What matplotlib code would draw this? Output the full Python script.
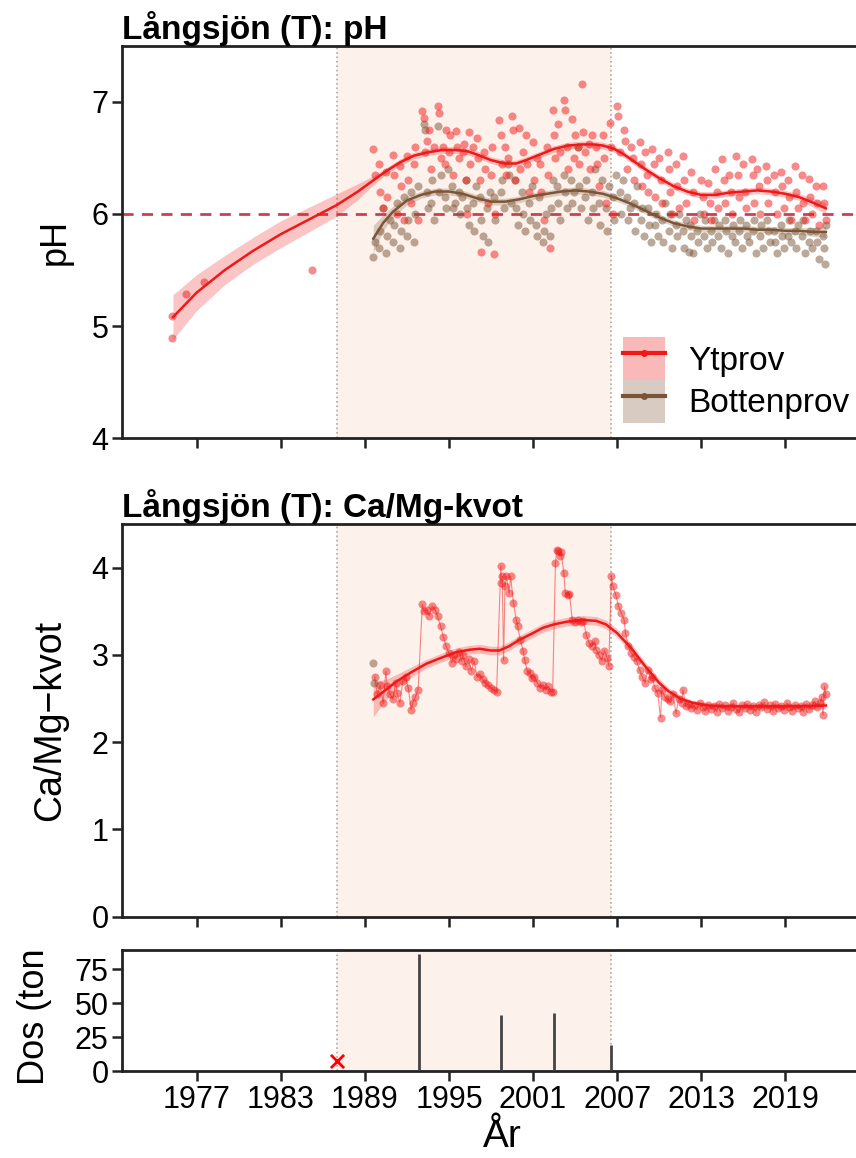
import matplotlib
matplotlib.use("Agg")
import matplotlib.pyplot as plt
import numpy as np
from matplotlib.patches import Patch
from matplotlib.lines import Line2D
from matplotlib.transforms import Bbox, TransformedBbox

plt.rcParams['font.family'] = ['Liberation Sans', 'DejaVu Sans']

# --- pH, Ytprov (surface samples)
ph_yt_t = [1975.2, 1975.25, 1976.2, 1977.5, 1985.2,
           1989.6, 1989.7, 1990.0, 1990.1, 1990.3, 1990.5, 1990.6, 1991.0, 1991.1, 1991.3,
           1991.5, 1991.6, 1991.8, 1992.0, 1992.1, 1992.3, 1992.5, 1992.6, 1992.8,
           1993.1, 1993.2, 1993.3, 1993.4, 1993.6, 1993.7, 1993.9, 1994.2, 1994.3, 1994.4,
           1994.6, 1994.7, 1994.8, 1995.0, 1995.1, 1995.3, 1995.5, 1995.6, 1995.7,
           1996.0, 1996.1, 1996.2, 1996.3, 1996.4, 1996.5, 1996.7, 1997.0, 1997.1, 1997.2,
           1997.3, 1997.5, 1997.6, 1997.8, 1998.0, 1998.1, 1998.2, 1998.3, 1998.6, 1998.7,
           1998.8, 1999.0, 1999.1, 1999.2, 1999.5, 1999.6, 1999.7, 2000.0, 2000.1, 2000.3,
           2000.5, 2000.6, 2000.7, 2001.0, 2001.1, 2001.3, 2001.5, 2001.6, 2001.8, 2002.0,
           2002.1, 2002.2, 2002.4, 2002.5, 2002.6, 2002.8, 2002.9, 2003.2, 2003.3, 2003.4,
           2003.5, 2003.8, 2003.9, 2004.0, 2004.2, 2004.3, 2004.5, 2004.6, 2004.7, 2005.0,
           2005.1, 2005.2, 2005.5, 2005.6, 2005.7, 2006.0, 2006.1, 2006.2, 2006.5, 2006.6,
           2006.7, 2007.0, 2007.1, 2007.2, 2007.5, 2007.6, 2007.7, 2008.0, 2008.1, 2008.2,
           2008.6, 2008.7, 2008.8, 2009.0, 2009.1, 2009.2, 2009.5, 2009.6, 2009.7, 2010.0,
           2010.1, 2010.2, 2010.6, 2010.7, 2010.8, 2010.9, 2011.2, 2011.3, 2011.4, 2011.7,
           2011.8, 2011.9, 2012.3, 2012.4, 2012.5, 2013.0, 2013.1, 2013.2, 2013.5, 2013.6,
           2013.7, 2014.0, 2014.1, 2014.2, 2014.5, 2014.6, 2014.7, 2015.0, 2015.1, 2015.2,
           2015.5, 2015.6, 2015.7, 2016.0, 2016.1, 2016.2, 2016.6, 2016.7, 2016.8, 2017.0,
           2017.1, 2017.2, 2017.6, 2017.7, 2017.8, 2018.2, 2018.3, 2018.4, 2018.7, 2018.8,
           2018.9, 2019.2, 2019.3, 2019.4, 2019.7, 2019.8, 2019.9, 2020.2, 2020.3, 2020.4,
           2020.7, 2020.8, 2020.9, 2021.2, 2021.3, 2021.4, 2021.7, 2021.8, 2021.9]
ph_yt_v = [4.89, 5.09, 5.29, 5.39, 5.50,
           6.58, 6.35, 6.45, 6.20, 6.05, 6.37, 6.15, 6.53, 6.35, 6.00,
           6.43, 6.25, 5.95, 6.52, 6.30, 6.10, 6.45, 6.60, 5.95,
           6.92, 6.86, 6.55, 6.65, 6.75, 6.40, 6.60, 6.96, 6.90, 6.50,
           6.60, 6.45, 6.75, 6.55, 6.70, 6.35, 6.74, 6.60, 6.50,
           6.55, 6.62, 6.30, 6.00, 6.73, 6.45, 6.60, 6.68, 6.50, 6.30,
           5.66, 6.55, 6.40, 6.10, 6.35, 6.60, 5.64, 6.00, 6.84, 6.70,
           6.45, 6.60, 6.35, 6.50, 6.87, 6.75, 6.30, 6.77, 6.40, 6.55,
           6.70, 6.45, 6.20, 6.64, 6.30, 6.50, 6.45, 6.20, 5.95, 6.60,
           6.35, 5.70, 6.93, 6.70, 6.50, 6.80, 6.55, 7.02, 6.93, 6.60,
           6.40, 6.85, 6.50, 6.70, 6.60, 6.45, 7.16, 6.73, 6.55, 6.62,
           6.40, 6.70, 6.60, 6.45, 6.25, 6.70, 6.50, 6.10, 6.81, 6.60,
           6.00, 6.96, 6.87, 6.55, 6.75, 6.65, 6.40, 6.60, 6.50, 6.30,
           6.64, 6.45, 6.25, 6.55, 6.35, 6.20, 6.58, 6.45, 6.15, 6.50,
           6.30, 6.10, 6.55, 6.40, 6.20, 6.00, 6.45, 6.25, 6.05, 6.52,
           6.30, 6.10, 6.37, 6.20, 5.95, 6.30, 6.15, 6.00, 6.28, 6.10,
           5.95, 6.40, 6.20, 6.05, 6.49, 6.30, 6.10, 6.35, 6.20, 6.00,
           6.52, 6.35, 6.15, 6.45, 6.20, 6.05, 6.49, 6.35, 6.10, 6.40,
           6.25, 6.00, 6.43, 6.30, 6.10, 6.35, 6.20, 6.00, 6.37, 6.25,
           6.05, 6.30, 6.15, 5.95, 6.43, 6.20, 6.05, 6.35, 6.10, 5.95,
           6.31, 6.15, 6.00, 6.25, 6.10, 5.90, 6.25, 6.10, 5.95]

# --- pH, Bottenprov (bottom samples)
ph_bo_t = [1989.6, 1989.7, 1990.0, 1990.1, 1990.3, 1990.5, 1990.6, 1990.8, 1991.0, 1991.1,
           1991.3, 1991.5, 1991.6, 1991.8, 1992.0, 1992.1, 1992.3, 1992.5, 1992.6, 1992.8,
           1993.2, 1993.3, 1993.4, 1993.5, 1993.7, 1993.8, 1993.9, 1994.2, 1994.3, 1994.4,
           1994.7, 1994.8, 1994.9, 1995.2, 1995.3, 1995.4, 1995.7, 1995.8, 1995.9, 1996.2,
           1996.3, 1996.4, 1996.7, 1996.8, 1996.9, 1997.2, 1997.3, 1997.4, 1997.7, 1997.8,
           1997.9, 1998.2, 1998.3, 1998.7, 1998.8, 1998.9, 1999.2, 1999.3, 1999.4, 1999.7,
           1999.8, 1999.9, 2000.2, 2000.3, 2000.4, 2000.7, 2000.8, 2000.9, 2001.2, 2001.3,
           2001.4, 2001.7, 2001.8, 2001.9, 2002.2, 2002.3, 2002.4, 2002.7, 2002.8, 2002.9,
           2003.2, 2003.3, 2003.4, 2003.7, 2003.8, 2003.9, 2004.2, 2004.3, 2004.4, 2004.7,
           2004.8, 2004.9, 2005.2, 2005.3, 2005.4, 2005.7, 2005.8, 2005.9, 2006.2, 2006.3,
           2006.4, 2006.7, 2006.8, 2006.9, 2007.2, 2007.3, 2007.4, 2007.7, 2007.8, 2007.9,
           2008.2, 2008.3, 2008.4, 2008.7, 2008.8, 2008.9, 2009.2, 2009.3, 2009.4, 2009.7,
           2009.8, 2009.9, 2010.2, 2010.3, 2010.4, 2010.7, 2010.8, 2010.9, 2011.2, 2011.3,
           2011.4, 2011.7, 2011.8, 2011.9, 2012.1, 2012.2, 2012.3, 2012.4, 2012.7, 2012.8,
           2012.9, 2013.2, 2013.3, 2013.4, 2013.7, 2013.8, 2013.9, 2014.2, 2014.3, 2014.4,
           2014.7, 2014.8, 2014.9, 2015.2, 2015.3, 2015.4, 2015.7, 2015.8, 2015.9, 2016.2,
           2016.3, 2016.4, 2016.7, 2016.8, 2016.9, 2017.2, 2017.3, 2017.4, 2017.7, 2017.8,
           2017.9, 2018.2, 2018.3, 2018.4, 2018.7, 2018.8, 2018.9, 2019.2, 2019.3, 2019.4,
           2019.7, 2019.8, 2019.9, 2020.2, 2020.3, 2020.4, 2020.7, 2020.8, 2020.9, 2021.2,
           2021.3, 2021.4, 2021.7, 2021.8, 2021.85, 2021.9]
ph_bo_v = [5.62, 5.75, 5.70, 5.85, 6.05, 5.65, 5.80, 5.95, 5.75, 5.90,
           6.10, 5.70, 5.85, 6.15, 5.80, 5.95, 6.20, 5.75, 6.00, 6.25,
           6.80, 6.75, 6.20, 6.05, 6.10, 6.30, 5.95, 6.78, 6.20, 6.35,
           6.15, 6.05, 6.40, 6.25, 6.05, 6.10, 6.20, 6.00, 6.15, 6.30,
           6.05, 5.90, 6.10, 5.85, 6.25, 6.15, 5.95, 5.80, 6.05, 5.75,
           6.20, 6.15, 5.95, 6.20, 6.30, 6.05, 6.45, 6.35, 6.10, 6.30,
           6.05, 5.90, 6.20, 6.00, 5.85, 6.10, 5.95, 6.25, 5.90, 5.80,
           6.15, 5.75, 5.85, 6.00, 5.80, 6.05, 6.30, 6.25, 6.10, 5.95,
           6.35, 6.20, 6.05, 6.30, 6.10, 6.20, 6.60, 6.25, 6.05, 6.15,
           6.30, 5.95, 6.20, 6.05, 6.40, 6.10, 5.90, 6.30, 6.05, 5.85,
           6.25, 6.15, 5.95, 6.35, 6.20, 6.00, 6.30, 6.15, 5.95, 6.05,
           6.10, 5.85, 6.25, 5.95, 6.05, 5.80, 6.05, 5.90, 5.75, 5.90,
           6.00, 5.80, 5.95, 5.75, 6.10, 5.85, 6.00, 5.70, 5.90, 5.80,
           6.00, 5.85, 5.70, 5.95, 5.66, 5.90, 5.80, 5.65, 5.85, 5.75,
           6.00, 5.80, 5.95, 5.70, 5.85, 5.75, 5.95, 5.80, 5.90, 5.70,
           5.95, 5.85, 5.65, 5.80, 5.90, 5.75, 5.85, 5.95, 5.70, 5.90,
           5.80, 5.75, 5.85, 5.95, 5.65, 5.80, 5.90, 5.70, 5.95, 5.85,
           5.75, 5.85, 5.75, 5.65, 5.90, 5.80, 5.70, 5.80, 5.95, 5.75,
           5.85, 5.70, 5.90, 5.80, 5.95, 5.65, 5.75, 5.85, 5.70, 5.85,
           5.75, 5.60, 5.80, 5.70, 5.55, 5.90]

# smoothed trends (mean and half-width of the band)
tr_yt_t = [1975.3, 1977, 1979, 1981, 1983, 1985, 1987, 1988.5, 1989.6, 1990.5, 1991.5,
           1992.5, 1993.5, 1994.5, 1995.5, 1996.3, 1997, 1998, 1999, 1999.8, 2000.5,
           2001.5, 2002.5, 2003.5, 2004.5, 2005.3, 2006, 2006.8, 2007.5, 2008.3, 2009,
           2010, 2011, 2012, 2013, 2014, 2015, 2016, 2017, 2018, 2019, 2020, 2021, 2021.9]
tr_yt_m = [5.08, 5.30, 5.50, 5.67, 5.82, 5.95, 6.08, 6.20, 6.30, 6.38, 6.46,
           6.52, 6.55, 6.57, 6.57, 6.56, 6.53, 6.48, 6.45, 6.45, 6.48,
           6.53, 6.58, 6.61, 6.62, 6.62, 6.61, 6.58, 6.53, 6.46, 6.40,
           6.32, 6.25, 6.20, 6.17, 6.17, 6.19, 6.20, 6.21, 6.20, 6.18, 6.15, 6.10, 6.05]
tr_yt_h = [0.20, 0.16, 0.13, 0.12, 0.12, 0.11, 0.10, 0.07, 0.04, 0.03, 0.03,
           0.03, 0.03, 0.03, 0.03, 0.03, 0.03, 0.03, 0.03, 0.03, 0.03,
           0.03, 0.03, 0.03, 0.03, 0.03, 0.03, 0.03, 0.03, 0.03, 0.03,
           0.03, 0.03, 0.03, 0.03, 0.03, 0.03, 0.03, 0.03, 0.03, 0.03, 0.03, 0.04, 0.05]

tr_bo_t = [1989.6, 1990.3, 1991, 1992, 1993, 1994, 1995, 1996, 1997, 1998, 1999, 2000,
           2001, 2002, 2003, 2004, 2005, 2006, 2007, 2008, 2009, 2010, 2011, 2012, 2013,
           2014, 2015, 2016, 2017, 2018, 2019, 2020, 2021, 2021.9]
tr_bo_m = [5.78, 5.92, 6.02, 6.12, 6.17, 6.20, 6.20, 6.18, 6.14, 6.11, 6.11, 6.13,
           6.16, 6.18, 6.20, 6.21, 6.20, 6.18, 6.14, 6.09, 6.03, 5.97, 5.92, 5.89, 5.87,
           5.87, 5.87, 5.87, 5.86, 5.86, 5.85, 5.85, 5.84, 5.84]
tr_bo_h = [0.12, 0.07, 0.05, 0.04, 0.03, 0.03, 0.03, 0.03, 0.03, 0.03, 0.03, 0.03,
           0.03, 0.03, 0.03, 0.03, 0.03, 0.03, 0.03, 0.03, 0.03, 0.03, 0.03, 0.03, 0.03,
           0.03, 0.03, 0.03, 0.03, 0.03, 0.03, 0.03, 0.04, 0.05]

# --- Ca/Mg ratio, Ytprov
camg_t = [1989.7, 1989.9, 1990.1, 1990.3, 1990.5, 1990.6, 1990.8, 1991.0, 1991.2, 1991.3,
          1991.5, 1991.7, 1991.9, 1992.1, 1992.3, 1992.4, 1992.6, 1992.8,
          1993.1, 1993.2, 1993.4, 1993.6, 1993.8, 1994.0, 1994.2, 1994.4, 1994.6, 1994.8,
          1995.0, 1995.2, 1995.3, 1995.5, 1995.7, 1995.9, 1996.0, 1996.2, 1996.4, 1996.6,
          1996.8, 1997.0, 1997.2, 1997.4, 1997.6, 1997.8, 1998.0, 1998.2, 1998.4,
          1998.7, 1998.75, 1998.8, 1998.9, 1999.0, 1999.1, 1999.3, 1999.4, 1999.6, 1999.8,
          1999.9, 2000.1, 2000.3, 2000.4, 2000.6, 2000.8, 2000.9, 2001.1, 2001.3, 2001.5,
          2001.7, 2001.9, 2002.1, 2002.3, 2002.4,
          2002.6, 2002.7, 2002.8, 2002.9, 2003.0, 2003.2, 2003.3, 2003.5, 2003.6, 2003.8,
          2004.0, 2004.2, 2004.4, 2004.6, 2004.8, 2005.0, 2005.2, 2005.4, 2005.5, 2005.7,
          2005.9, 2006.1, 2006.3, 2006.4,
          2006.6, 2006.7, 2006.9, 2007.1, 2007.3, 2007.5, 2007.6, 2007.8, 2008.0, 2008.2,
          2008.4, 2008.6, 2008.8, 2009.0, 2009.2, 2009.4, 2009.5, 2009.7, 2009.9, 2010.1,
          2010.2, 2010.4, 2010.6, 2010.8, 2011.0, 2011.2, 2011.4, 2011.6, 2011.7, 2011.9,
          2012.1, 2012.3, 2012.5, 2012.7, 2012.9, 2013.1, 2013.3, 2013.5, 2013.7, 2013.9,
          2014.1, 2014.3, 2014.5, 2014.7, 2014.9, 2015.1, 2015.3, 2015.5, 2015.7, 2015.9,
          2016.1, 2016.3, 2016.5, 2016.7, 2016.9, 2017.1, 2017.3, 2017.5, 2017.7, 2017.9,
          2018.1, 2018.3, 2018.5, 2018.7, 2018.9, 2019.1, 2019.3, 2019.5, 2019.7, 2019.9,
          2020.1, 2020.3, 2020.5, 2020.7, 2020.9, 2021.1, 2021.3, 2021.5, 2021.6, 2021.7,
          2021.8, 2021.9]
camg_v = [2.75, 2.55, 2.65, 2.45, 2.81, 2.64, 2.55, 2.49, 2.68, 2.56,
          2.45, 2.70, 2.75, 2.62, 2.37, 2.45, 2.52, 2.60,
          3.58, 3.50, 3.52, 3.45, 3.56, 3.52, 3.44, 3.33, 3.21, 3.10,
          3.02, 2.91, 3.00, 2.95, 3.03, 2.93, 3.00, 2.87, 2.95, 2.82,
          2.93, 2.75, 2.78, 2.72, 2.68, 2.65, 2.62, 2.60, 2.58,
          4.02, 3.82, 3.90, 2.94, 3.79, 3.90, 3.71, 3.90, 3.60, 3.40,
          3.33, 3.17, 3.04, 2.94, 2.81, 2.79, 2.73, 2.75, 2.68, 2.62,
          2.66, 2.60, 2.64, 2.58, 2.58,
          4.05, 4.20, 4.19, 4.13, 4.18, 3.94, 3.71, 3.69, 3.70, 3.40,
          3.38, 3.40, 3.38, 3.39, 3.23, 3.14, 3.10, 3.16, 3.06, 3.00,
          2.93, 3.05, 2.96, 2.87,
          3.90, 3.79, 3.69, 3.56, 3.48, 3.40, 3.25, 3.10, 3.02, 2.98,
          2.93, 2.83, 2.75, 2.68, 2.83, 2.72, 2.75, 2.62, 2.56, 2.28,
          2.60, 2.52, 2.49, 2.47, 2.55, 2.33, 2.50, 2.45, 2.60, 2.41,
          2.44, 2.39, 2.42, 2.37, 2.45, 2.40, 2.36, 2.43, 2.38, 2.41,
          2.35, 2.44, 2.39, 2.42, 2.36, 2.40, 2.45, 2.38, 2.34, 2.42,
          2.39, 2.44, 2.37, 2.41, 2.35, 2.43, 2.40, 2.46, 2.38, 2.42,
          2.36, 2.44, 2.39, 2.41, 2.37, 2.45, 2.40, 2.36, 2.43, 2.39,
          2.41, 2.35, 2.44, 2.38, 2.42, 2.47, 2.40, 2.45, 2.52, 2.31,
          2.64, 2.55]

# Ca/Mg, Bottenprov (only the first two samples)
camg_bo_t = [1989.6, 1989.65]
camg_bo_v = [2.91, 2.68]

tr_camg_t = [1989.6, 1990.5, 1991.3, 1992.3, 1993.4, 1994.5, 1995.5, 1996.5, 1997.2, 1998,
             1998.6, 1999.3, 2000, 2001, 2001.7, 2002.5, 2003.4, 2004.5, 2005.5, 2006.2,
             2007, 2008, 2009, 2010, 2010.7, 2011.5, 2012.4, 2013.5, 2014.5, 2016, 2018,
             2020, 2021.9]
tr_camg_m = [2.49, 2.60, 2.70, 2.80, 2.90, 2.97, 3.03, 3.06, 3.07, 3.05,
             3.05, 3.10, 3.17, 3.25, 3.31, 3.35, 3.38, 3.40, 3.39, 3.35,
             3.25, 3.08, 2.87, 2.68, 2.58, 2.50, 2.45, 2.42, 2.41, 2.41, 2.41,
             2.41, 2.42]
tr_camg_h = [0.20, 0.12, 0.08, 0.06, 0.05, 0.05, 0.05, 0.05, 0.05, 0.05,
             0.05, 0.05, 0.05, 0.05, 0.05, 0.05, 0.05, 0.05, 0.05, 0.05,
             0.05, 0.05, 0.05, 0.05, 0.04, 0.04, 0.03, 0.03, 0.03, 0.03, 0.03,
             0.03, 0.04]

# --- liming doses (ton)
dos_t = [1992.85, 1998.7, 2002.5, 2006.6]
dos_v = [86, 41, 42.5, 19.5]
dos_x_t = [1987.0]   # marked dose without amount
dos_x_v = [7.5]

period = (1987.0, 2006.55)
xlim = (1971.7, 2026.0)
years = [1977, 1983, 1989, 1995, 2001, 2007, 2013, 2019]

RED = '#f01818'
BROWN = '#7b5535'
SPAN = '#fdf1ec'
TICK_FS = 22

fig = plt.figure(figsize=(8.56, 11.58), dpi=100)
L, W = 0.1431, 0.8888
B3, H3 = 0.0751, 0.1045
ax1 = fig.add_axes([L, 0.6215, W, 0.3390])
ax2 = fig.add_axes([L, 0.2084, W, 0.3391])
ax3 = fig.add_axes([L, B3, W, H3])


def base(ax):
    ax.axvspan(*period, color=SPAN, zorder=0, lw=0)
    for p in period:
        ax.axvline(p, color='#b0a8a4', ls=':', lw=1.2, zorder=0.5)
    ax.set_xlim(*xlim)
    ax.set_xticks(years)
    for s in ax.spines.values():
        s.set_linewidth(2)
        s.set_color('#222222')
    ax.tick_params(direction='out', length=7, width=1.8, labelsize=TICK_FS,
                   color='#222222', pad=3)


for ax in (ax1, ax2, ax3):
    base(ax)

# pH panel
ax1.axhline(6, color='#cc4050', ls=(0, (4, 3)), lw=2, zorder=1)
ax1.fill_between(tr_yt_t, np.subtract(tr_yt_m, tr_yt_h), np.add(tr_yt_m, tr_yt_h),
                 color=RED, alpha=0.25, lw=0, zorder=2)
ax1.fill_between(tr_bo_t, np.subtract(tr_bo_m, tr_bo_h), np.add(tr_bo_m, tr_bo_h),
                 color=BROWN, alpha=0.25, lw=0, zorder=2)
ax1.scatter(ph_bo_t, ph_bo_v, s=34, color=BROWN, alpha=0.5, lw=0, zorder=3)
ax1.scatter(ph_yt_t, ph_yt_v, s=34, color=RED, alpha=0.5, lw=0, zorder=3)
ax1.plot(tr_yt_t, tr_yt_m, color=RED, lw=1.8, zorder=4)
ax1.plot(tr_bo_t, tr_bo_m, color=BROWN, lw=1.8, zorder=4)
ax1.set_ylim(4, 7.5)
ax1.set_yticks([4, 5, 6, 7])
ax1.tick_params(labelbottom=False)
ax1.set_ylabel('pH', fontsize=26)
ax1.yaxis.set_label_coords(-0.065, 0.5)
ax1.set_title('Långsjön (T): pH', loc='left', fontsize=24, fontweight='bold', pad=5)

h_yt = (Patch(facecolor=RED, alpha=0.3, lw=0),
        Line2D([], [], color=RED, lw=3, marker='o', ms=4))
h_bo = (Patch(facecolor=BROWN, alpha=0.3, lw=0),
        Line2D([], [], color=BROWN, lw=3, marker='o', ms=4))
ax1.legend([h_yt, h_bo], ['Ytprov', 'Bottenprov'], loc='lower left',
           bbox_to_anchor=(0.649, 0.022), frameon=False, fontsize=24,
           handlelength=1.25, handleheight=1.6, handletextpad=0.7,
           labelspacing=0.0, borderpad=0.2, borderaxespad=0)

# Ca/Mg panel
ax2.fill_between(tr_camg_t, np.subtract(tr_camg_m, tr_camg_h),
                 np.add(tr_camg_m, tr_camg_h), color=RED, alpha=0.25, lw=0, zorder=2)
ax2.plot(camg_t, camg_v, color=RED, lw=0.8, alpha=0.5, zorder=3)
ax2.scatter(camg_bo_t, camg_bo_v, s=34, color=BROWN, alpha=0.5, lw=0, zorder=3)
ax2.scatter(camg_t, camg_v, s=34, color=RED, alpha=0.5, lw=0, zorder=3)
ax2.plot(tr_camg_t, tr_camg_m, color=RED, lw=1.8, zorder=4)
ax2.set_ylim(0, 4.5)
ax2.set_yticks([0, 1, 2, 3, 4])
ax2.tick_params(labelbottom=False)
ax2.set_ylabel('Ca/Mg−kvot', fontsize=27)
ax2.yaxis.set_label_coords(-0.072, 0.5)
ax2.set_title('Långsjön (T): Ca/Mg-kvot', loc='left', fontsize=24, fontweight='bold', pad=5)

# dose panel
ax3.vlines(dos_t, 0, dos_v, color='#444444', lw=2, zorder=3)
ax3.scatter(dos_x_t, dos_x_v, marker='x', s=90, color='red', lw=2, zorder=3)
ax3.set_ylim(0, 89)
ax3.set_yticks([0, 25, 50, 75])
ax3.set_xticklabels([str(y) for y in years])
ax3.set_xlabel('År', fontsize=28, labelpad=3)
ax3.set_ylabel('Dos (ton)', fontsize=26)
ax3.yaxis.set_label_coords(-0.093, 0.5)
lab = ax3.yaxis.label
lab.set_clip_box(TransformedBbox(Bbox([[0, 0], [1, B3 + H3]]), fig.transFigure))
lab.set_clip_on(True)

fig.savefig('out.png', dpi=100)
